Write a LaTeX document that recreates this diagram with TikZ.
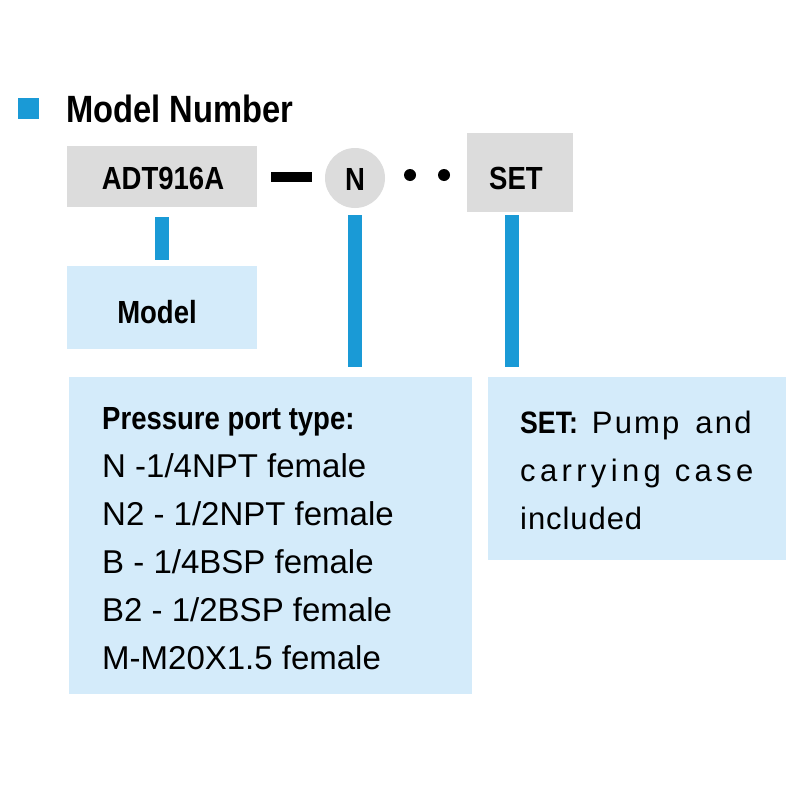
\documentclass[tikz,border=0pt]{standalone}
\usepackage{fontspec}
\setmainfont{Liberation Sans}
\newfontfamily\condbf{Liberation Sans Bold}[FakeStretch=0.86]
\usetikzlibrary{positioning,calc}
\definecolor{BarBlue}{RGB}{26,154,214}
\definecolor{BoxGray}{RGB}{220,220,220}
\definecolor{InfoBlue}{RGB}{212,235,250}
\tikzset{
  code/.style={fill=BoxGray,inner sep=0pt},
  codetext/.style={inner sep=0pt,font=\condbf\fontsize{32}{32}\selectfont},
  info/.style={fill=InfoBlue,inner sep=0pt,anchor=north west},
  link/.style={draw=BarBlue,line width=14pt},
  dot/.style={circle,fill=black,inner sep=0pt,minimum size=12pt},
}

\begin{document}
\begin{tikzpicture}[x=1pt,y=-1pt]
\useasboundingbox (0,0) rectangle (800,800);
% heading
\fill[BarBlue] (18,98) rectangle (39,119);
\node[anchor=base west,inner sep=0pt,font=\condbf\fontsize{38}{38}\selectfont] (title) at (66,122) {Model Number};
% model code
\node[code,minimum width=190pt,minimum height=61pt] (adt) at (162,176.5) {};
\node[codetext] at (163,178) {ADT916A};
\fill (271,172) rectangle (312,182);
\node[code,circle,minimum size=60pt] (n) at (355,178) {};
\node[codetext] at (355,179) {N};
\node[dot] (d1) at (410,175) {};
\node[dot] (d2) at (444,175) {};
\node[code,minimum width=106pt,minimum height=79pt] (set) at (520,172.5) {};
\node[codetext] at (516,178) {SET};
% explanations
\node[info,minimum width=190pt,minimum height=83pt] (model) at (67,266) {};
\node[codetext] at (157,312) {Model};
\node[info,minimum width=403pt,minimum height=317pt] (ptype) at (69,377) {};
\node[anchor=north west,inner sep=0pt,align=left,font=\fontsize{33}{48}\selectfont] (ptext) at (102,407)
  {{\condbf\fontsize{32}{48}\selectfont Pressure port type:}\\
   N -1/4NPT female\\
   N2 - 1/2NPT female\\
   B - 1/4BSP female\\
   B2 - 1/2BSP female\\
   M-M20X1.5 female};
\node[info,minimum width=298pt,minimum height=183pt] (setinfo) at (488,377) {};
\node[anchor=north west,inner sep=0pt,align=left,font=\fontsize{31}{48}\selectfont] (stext) at (520,411)
  {{\condbf\fontsize{31}{48}\selectfont SET:}\hspace{14pt}{\addfontfeature{LetterSpace=7}Pump\hspace{16pt}and}\\
   {\addfontfeature{LetterSpace=14}carrying\hspace{14pt}case}\\
   {\addfontfeature{LetterSpace=3}included}};
% connectors
\draw[link] ([yshift=-10pt]adt.south) -- ([yshift=6pt]adt.south |- model.north);
\draw[link] ([yshift=-7pt]n.south) -- ([yshift=10pt]n.south |- ptype.north);
\draw[link] ([xshift=-8pt,yshift=-3pt]set.south) -- ([xshift=-8pt,yshift=10pt]set.south |- setinfo.north);
\end{tikzpicture}
\end{document}
